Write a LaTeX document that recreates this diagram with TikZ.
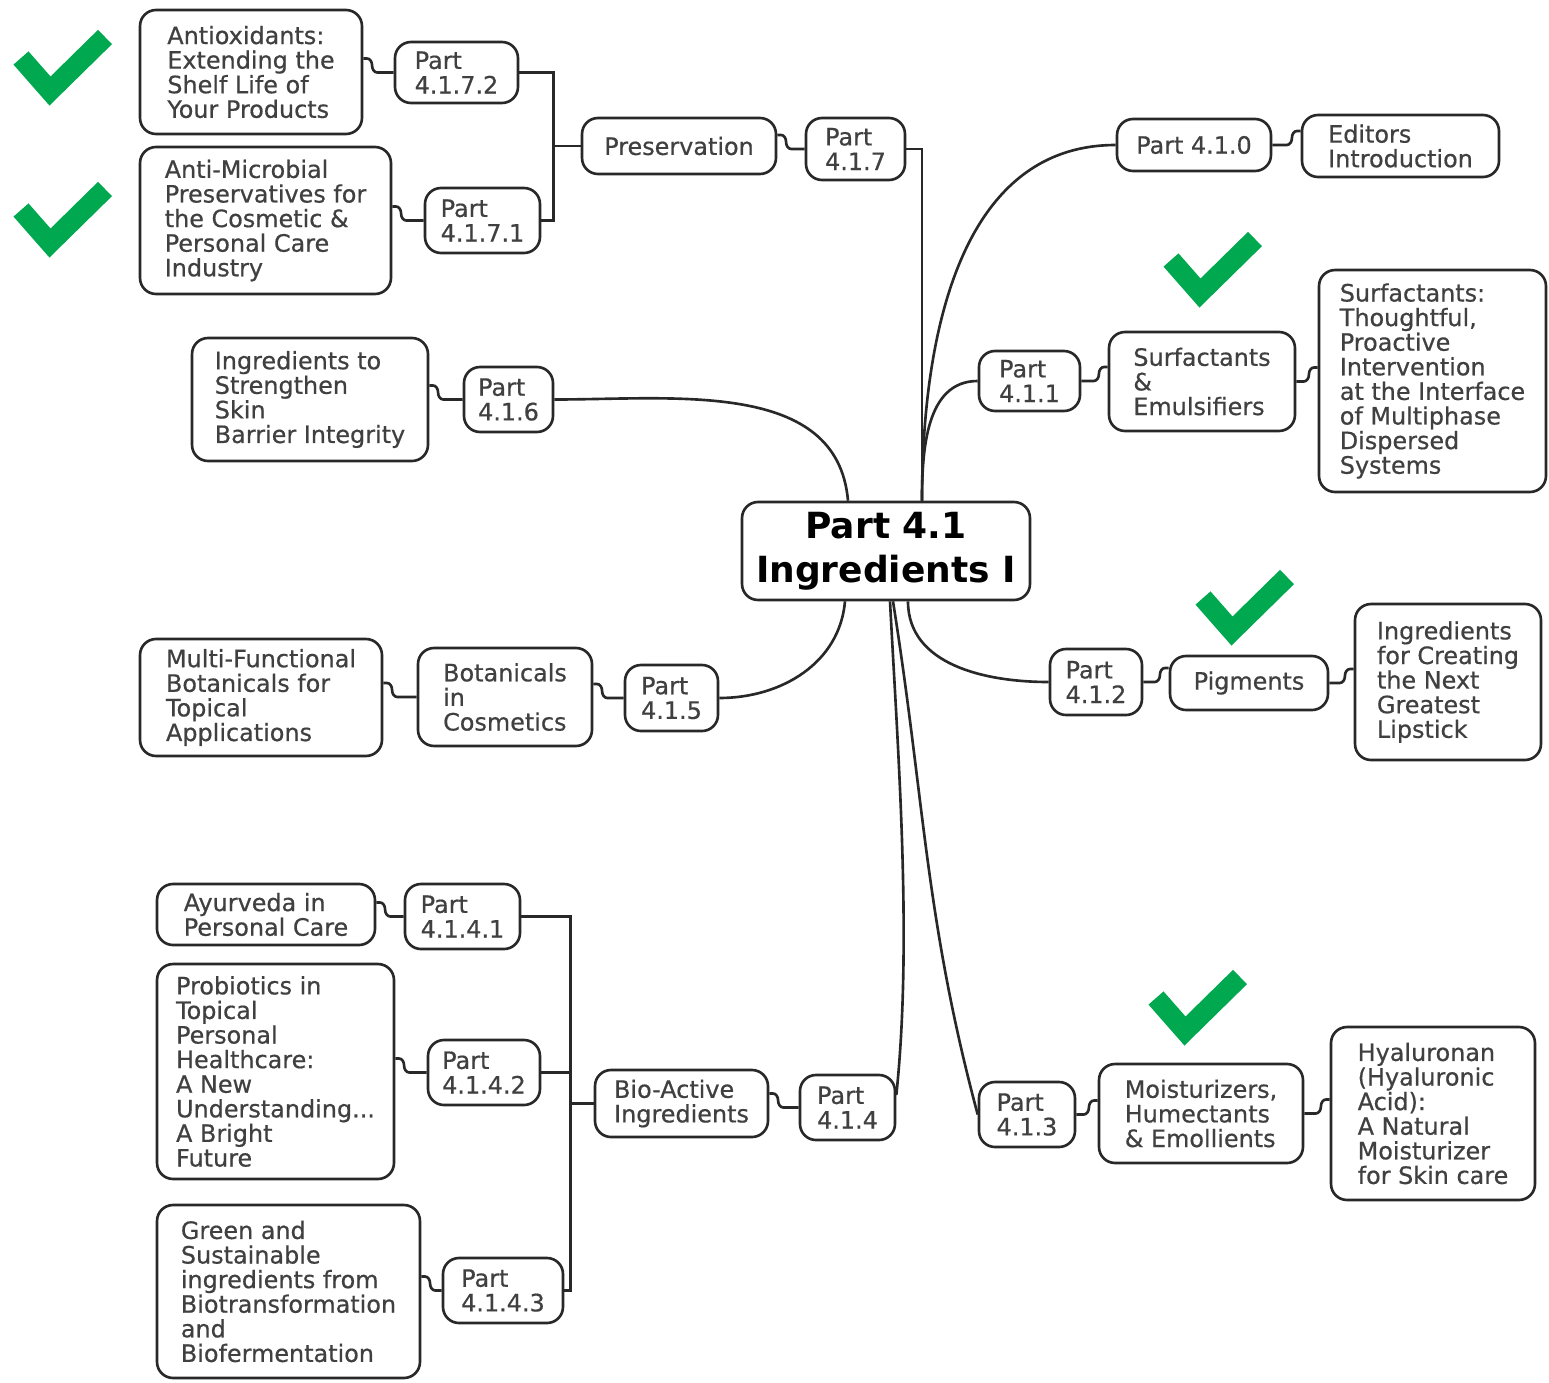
\documentclass[tikz,border=0pt]{standalone}
\usepackage[usenames,dvipsnames]{xcolor}
\usepackage{fontspec}
\setmainfont{DejaVu Sans}
\newfontfamily\boxfont{DejaVu Sans}[BoldFont={DejaVu Sans}, BoldFeatures={FakeBold=0.6}]
\usetikzlibrary{calc}

\definecolor{tickgreen}{RGB}{0,168,80}
\definecolor{boxgray}{RGB}{40,40,40}

\tikzset{
  link/.style={line width=1.5pt, boxgray},
  textbox/.style={draw=boxgray, line width=1.5pt, rounded corners=0.32cm, align=left, inner sep=0pt,
    text=black!75, font=\boxfont\bfseries\fontsize{13.6}{14}\selectfont},
  rootbox/.style={textbox, align=center, text=black, font=\fontsize{20.5}{25}\selectfont\bfseries},
  checkmark/.style={tickgreen, line width=0.4cm, line join=miter, line cap=butt}
}

\newcommand{\hookL}[2]{\draw[link] ($(#1.east |- #2.west)+(0pt,8pt)$) -- ++(2pt,0pt) to[out=0,in=90] ++(3pt,-4pt) to[out=-90,in=180] ++(3pt,-4pt) -- (#2.west);}
\newcommand{\hookR}[2]{\draw[link] (#1.east) -- ($(#1.east -| #2.west)+(-8pt,0pt)$) to[out=0,in=-90] ++(3pt,4pt) to[out=90,in=180] ++(3pt,4pt) -- ++(2pt,0pt);}

\begin{document}
\begin{tikzpicture}[x=0.02cm, y=0.02cm]
  \useasboundingbox (0,0) rectangle (1549,-1383);

  \node[rootbox, minimum width=5.76cm, minimum height=1.96cm] (root) at (886,-551) {Part 4.1\\Ingredients I};

  \node[textbox, minimum width=4.44cm, minimum height=2.48cm] (anti) at (251,-72) {Antioxidants:\\Extending the\\Shelf Life of\\Your Products};
  \node[textbox, minimum width=2.46cm, minimum height=1.22cm] (p4172) at (456.5,-72.5) {Part\\4.1.7.2};
  \node[textbox, minimum width=5.02cm, minimum height=2.94cm] (micro) at (265.5,-220.5) {Anti-Microbial\\Preservatives for\\the Cosmetic \&\\Personal Care\\Industry};
  \node[textbox, minimum width=2.3cm, minimum height=1.3cm] (p4171) at (482.5,-220.5) {Part\\4.1.7.1};
  \node[textbox, minimum width=3.88cm, minimum height=1.12cm] (pres) at (679,-146) {Preservation};
  \node[textbox, minimum width=1.98cm, minimum height=1.24cm] (p417) at (855.5,-149) {Part\\4.1.7};

  \node[textbox, minimum width=4.72cm, minimum height=2.46cm] (skin) at (310,-399.5) {Ingredients to\\Strengthen\\Skin\\Barrier Integrity};
  \node[textbox, minimum width=1.78cm, minimum height=1.3cm] (p416) at (508.5,-399.5) {Part\\4.1.6};

  \node[textbox, minimum width=3.08cm, minimum height=1.04cm] (p410) at (1194,-145) {Part 4.1.0};
  \node[textbox, minimum width=3.94cm, minimum height=1.24cm] (edit) at (1400.5,-146) {Editors\\Introduction};

  \node[textbox, minimum width=2.02cm, minimum height=1.2cm] (p411) at (1029.5,-381) {Part\\4.1.1};
  \node[textbox, minimum width=3.72cm, minimum height=1.98cm] (surf) at (1202,-381.5) {Surfactants\\\&\\Emulsifiers};
  \node[textbox, minimum width=4.54cm, minimum height=4.44cm] (disp) at (1432.5,-381) {Surfactants:\\Thoughtful,\\Proactive\\Intervention\\at the Interface\\of Multiphase\\Dispersed\\Systems};

  \node[textbox, minimum width=4.84cm, minimum height=2.34cm] (multi) at (261,-697.5) {Multi-Functional\\Botanicals for\\Topical\\Applications};
  \node[textbox, minimum width=3.48cm, minimum height=1.96cm] (bota) at (505,-697) {Botanicals\\in\\Cosmetics};
  \node[textbox, minimum width=1.86cm, minimum height=1.32cm] (p415) at (671.5,-698) {Part\\4.1.5};

  \node[textbox, minimum width=1.84cm, minimum height=1.32cm] (p412) at (1096,-682) {Part\\4.1.2};
  \node[textbox, minimum width=3.16cm, minimum height=1.08cm] (pigm) at (1249,-683) {Pigments};
  \node[textbox, minimum width=3.72cm, minimum height=3.12cm] (lips) at (1448,-682) {Ingredients\\for Creating\\the Next\\Greatest\\Lipstick};

  \node[textbox, minimum width=4.36cm, minimum height=1.22cm] (ayur) at (266,-914.5) {Ayurveda in\\Personal Care};
  \node[textbox, minimum width=2.3cm, minimum height=1.3cm] (p4141) at (462.5,-916.5) {Part\\4.1.4.1};
  \node[textbox, minimum width=4.74cm, minimum height=4.3cm] (prob) at (275.5,-1071.5) {Probiotics in\\Topical\\Personal\\Healthcare:\\A New\\Understanding...\\A Bright\\Future};
  \node[textbox, minimum width=2.24cm, minimum height=1.3cm] (p4142) at (484,-1072.5) {Part\\4.1.4.2};
  \node[textbox, minimum width=5.26cm, minimum height=3.46cm] (green) at (288.5,-1291.5) {Green and\\Sustainable\\ingredients from\\Biotransformation\\and\\Biofermentation};
  \node[textbox, minimum width=2.4cm, minimum height=1.3cm] (p4143) at (503,-1290.5) {Part\\4.1.4.3};
  \node[textbox, minimum width=3.46cm, minimum height=1.34cm] (bio) at (681.5,-1103.5) {Bio-Active\\Ingredients};
  \node[textbox, minimum width=1.9cm, minimum height=1.3cm] (p414) at (847.5,-1107.5) {Part\\4.1.4};

  \node[textbox, minimum width=1.92cm, minimum height=1.3cm] (p413) at (1027,-1114.5) {Part\\4.1.3};
  \node[textbox, minimum width=4.08cm, minimum height=1.98cm] (moist) at (1201,-1113.5) {Moisturizers,\\Humectants\\\& Emollients};
  \node[textbox, minimum width=4.08cm, minimum height=3.46cm] (hyal) at (1433,-1113.5) {Hyaluronan\\(Hyaluronic\\Acid):\\A Natural\\Moisturizer\\for Skin care};

  \coordinate (rtop) at ([xshift=0.72cm]root.north);
  \coordinate (pbus) at ([xshift=-0.54cm]pres.west);
  \coordinate (bbus) at ([xshift=-0.46cm]bio.west);

  \draw[link] (p4172.east) -| (pbus) |- (p4171.east);
  \draw[link] (pbus) -- (pres.west);
  \draw[link] (p417.east) -| (rtop);
  \draw[link] (p416.east) to[out=0,in=95] ([xshift=-0.76cm]root.north);
  \draw[link] (rtop) to[out=90,in=180] (p410.west);
  \draw[link] (rtop) to[out=90,in=180] (p411.west);
  \draw[link] ([xshift=-0.82cm]root.south) to[out=-95,in=0] (p415.east);
  \draw[link] ([xshift=0.44cm]root.south) to[out=-90,in=180] (p412.west);
  \draw[link] ([xshift=0.08cm]root.south) to[out=-87,in=84, looseness=0.8] ([yshift=0.25cm]p414.east);
  \draw[link] ([xshift=0.14cm]root.south) to[out=-81,in=105] (p413.west);
  \draw[link] (p4141.east) -| (bbus) |- (p4143.east);
  \draw[link] (p4142.east) -- (p4142.east -| bbus);
  \draw[link] (bbus) -- (bio.west);

  \hookL{anti}{p4172}
  \hookL{micro}{p4171}
  \hookL{pres}{p417}
  \hookL{skin}{p416}
  \hookL{multi}{bota}
  \hookL{bota}{p415}
  \hookL{ayur}{p4141}
  \hookL{prob}{p4142}
  \hookL{green}{p4143}
  \hookL{bio}{p414}
  \hookR{p410}{edit}
  \hookR{p411}{surf}
  \hookR{surf}{disp}
  \hookR{p412}{pigm}
  \hookR{pigm}{lips}
  \hookR{p413}{moist}
  \hookR{moist}{hyal}

  \foreach \cx/\cy in {50/-91, 50/-243, 1200/-293, 1232/-631, 1185/-1031}
    \draw[checkmark, shift={(\cx,\cy)}] (-29,33) -- (0,0) -- (55,54);
\end{tikzpicture}
\end{document}
